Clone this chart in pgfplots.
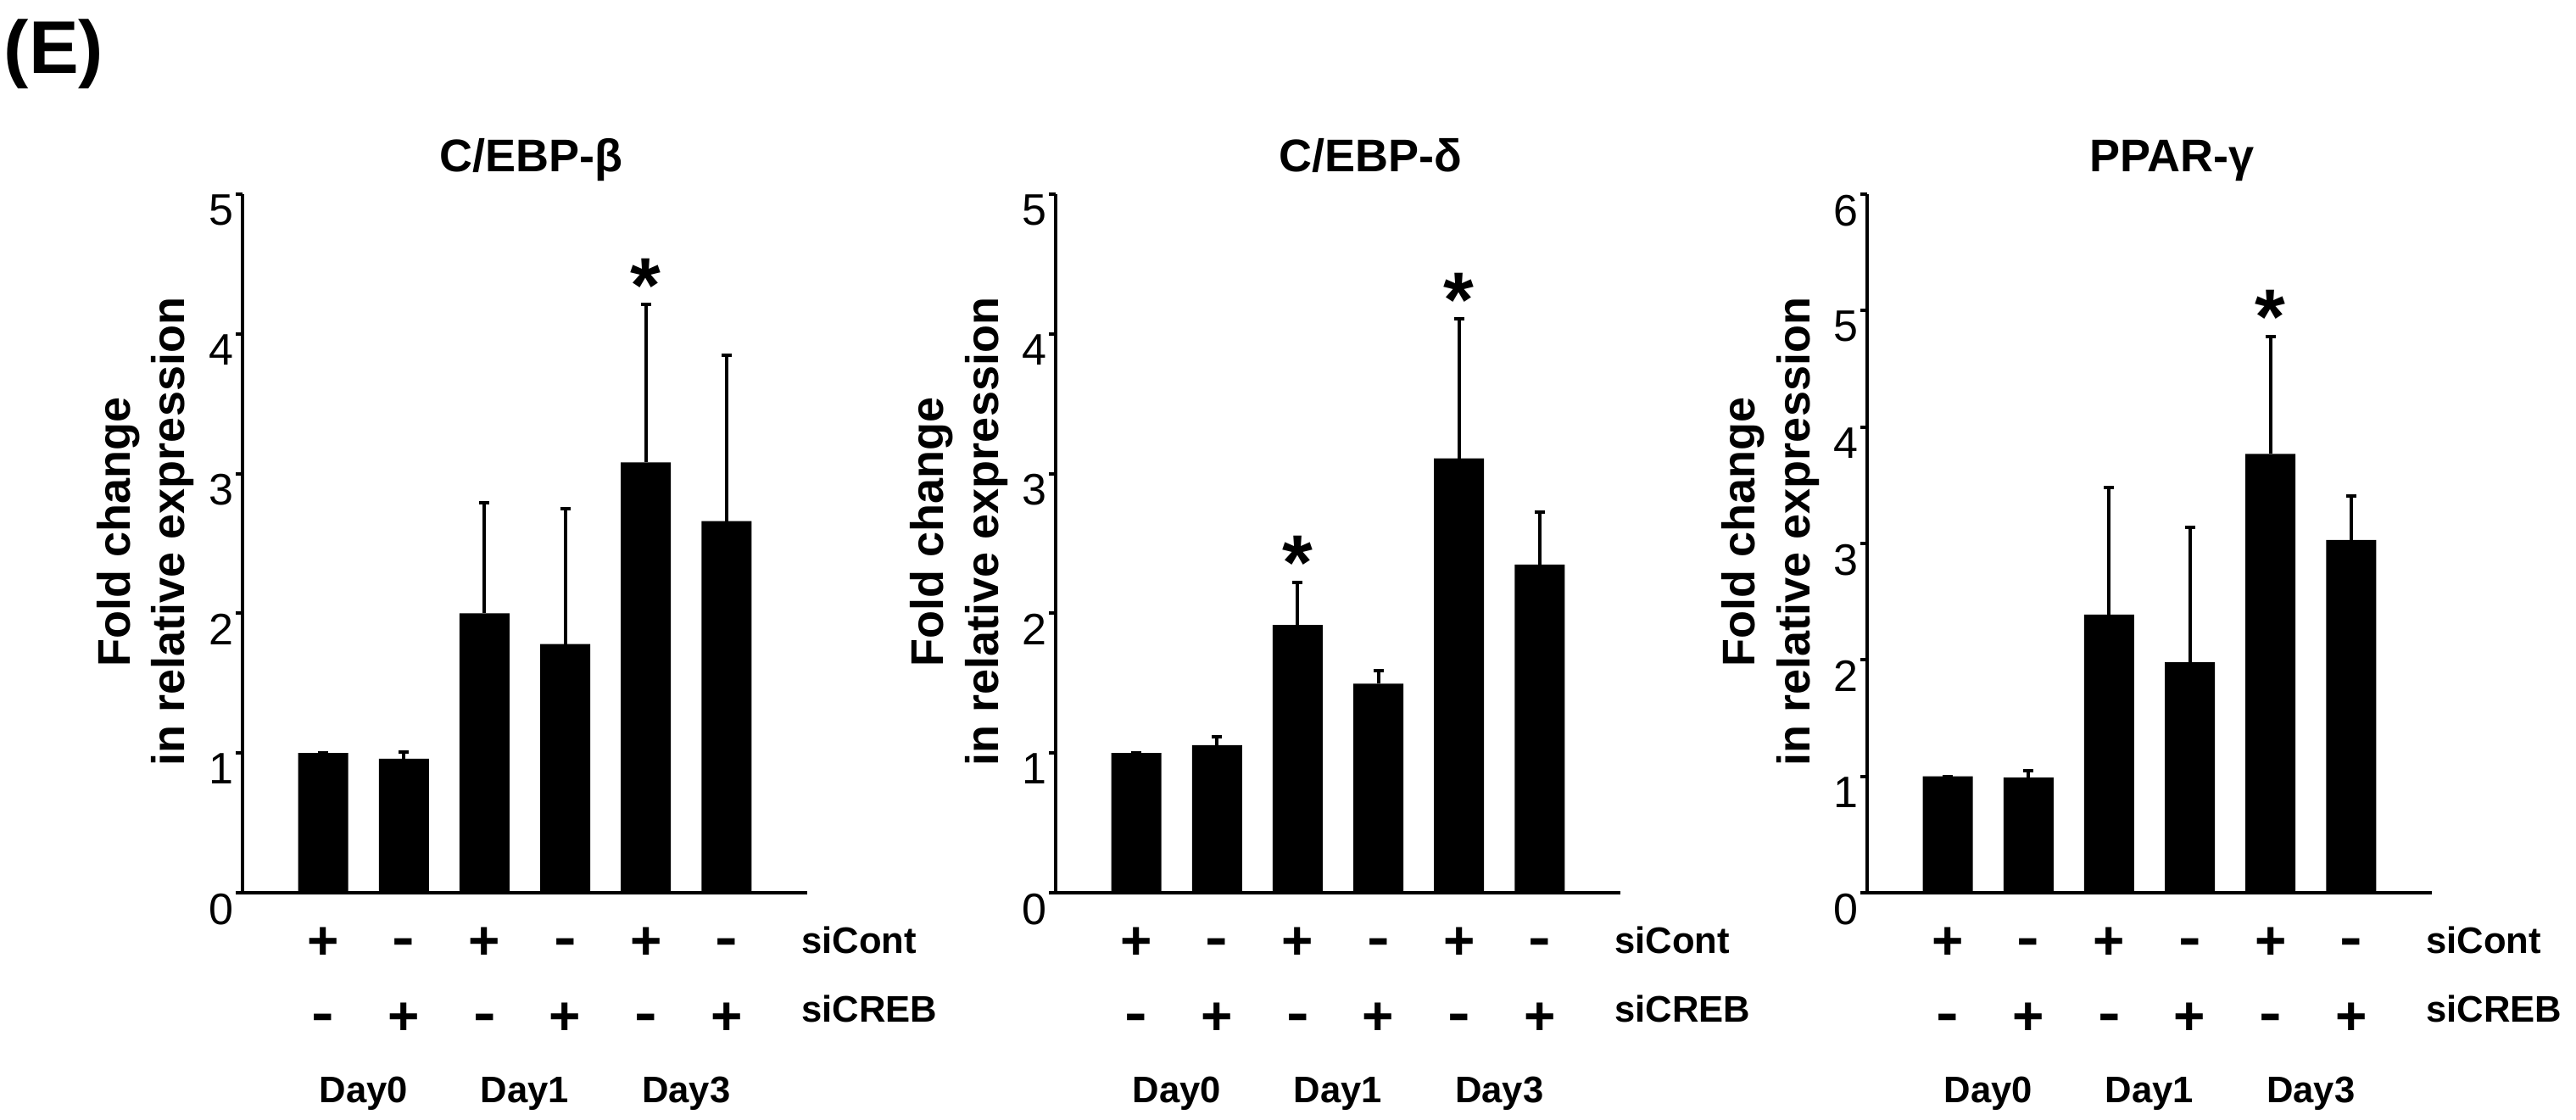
\documentclass[border=0pt]{standalone}
\usepackage{fontspec}
\setmainfont{Liberation Sans}
\usepackage{pgfplots}
\usepackage{pgfplotstable}
\pgfplotsset{compat=1.18}

\pgfplotstableread{
x y e
1 1.00 0
2 0.96 0.05
3 2.00 0.79
4 1.78 0.97
5 3.08 1.13
6 2.66 1.19
}\tabA
\pgfplotstableread{
x y e
1 1.00 0
2 1.056 0.063
3 1.917 0.306
4 1.496 0.092
5 3.109 0.997
6 2.349 0.373
}\tabB
\pgfplotstableread{
x y e
1 1.00 0
2 0.99 0.06
3 2.39 1.09
4 1.98 1.16
5 3.77 1.01
6 3.03 0.38
}\tabC

\newcommand\pmfont{\fontsize{16}{16}\selectfont\bfseries}
\newcommand\lblfont{\fontsize{10.9}{10.9}\selectfont\bfseries}
\newcommand\ttlfont{\fontsize{13.5}{13.5}\selectfont\bfseries}
\newcommand\starfont{\fontsize{23}{23}\selectfont\bfseries}
\newcommand\mns{\scalebox{1.25}[1]{-}}

\pgfplotsset{
  panel/.style={
    scale only axis, width=166.5pt, height=206pt,
    xmin=0, xmax=7, ymin=0,
    axis x line*=bottom, axis y line*=left,
    axis line style={line width=1pt, -},
    xtick=\empty,
    ytick distance=1,
    tick align=outside, major tick length=2pt,
    tick style={line width=1pt, black},
    yticklabel style={font=\fontsize{13}{13}\selectfont, anchor=north east, inner sep=0pt, xshift=-0.5pt},
    /pgf/number format/assume math mode=true,
    clip=false,
  },
  bars/.style={
    ybar, bar width=14.75pt, bar shift=0pt, fill=black, draw=none,
    error bars/.cd, y dir=plus, y explicit,
    error bar style={line width=1pt, black},
    error mark options={rotate=90, mark size=1.5pt, line width=1pt, black},
  },
}

\newcommand\pl[2]{\node[anchor=base, inner sep=0pt, font=\pmfont, yshift=#2] at (axis cs:#1,0) {+};}
\newcommand\mi[2]{\node[anchor=base, inner sep=0pt, font=\pmfont, yshift=#2] at (axis cs:#1,0) {\mns};}

\newcommand\rows{%
  \pl{1}{-19.5pt}\mi{2}{-18.5pt}\pl{3}{-19.5pt}\mi{4}{-18.5pt}\pl{5}{-19.5pt}\mi{6}{-18.5pt}
  \mi{1}{-40.75pt}\pl{2}{-41.9pt}\mi{3}{-40.75pt}\pl{4}{-41.9pt}\mi{5}{-40.75pt}\pl{6}{-41.9pt}
  \node[anchor=base west, inner sep=0pt, font=\lblfont, yshift=-17.75pt] at (axis cs:6.92,0) {siCont};
  \node[anchor=base west, inner sep=0pt, font=\lblfont, yshift=-38pt] at (axis cs:6.92,0) {siCREB};
  \node[anchor=base, inner sep=0pt, font=\lblfont, yshift=-61.75pt] at (axis cs:1.5,0) {Day0};
  \node[anchor=base, inner sep=0pt, font=\lblfont, yshift=-61.75pt] at (axis cs:3.5,0) {Day1};
  \node[anchor=base, inner sep=0pt, font=\lblfont, yshift=-61.75pt] at (axis cs:5.5,0) {Day3};
  \node[anchor=base, inner sep=0pt, rotate=90, font=\ttlfont] at ([xshift=-33.25pt]axis description cs:0,0.517) {Fold change};
  \node[anchor=base, inner sep=0pt, rotate=90, font=\ttlfont] at ([xshift=-17pt]axis description cs:0,0.517) {in relative expression};
}

\begin{document}
\begin{tikzpicture}
\path (0pt,0pt) rectangle (759.5pt,330pt);
\node[anchor=base west, inner sep=0pt, font=\fontsize{22}{22}\selectfont\bfseries] at (1pt,308.25pt) {(E)};

\begin{axis}[panel, ymax=5, at={(71.5pt,66.75pt)}, anchor=south west]
\addplot[bars] table[x=x, y=y, y error=e] {\tabA};
\rows
\node[anchor=base, inner sep=0pt, font=\ttlfont] at ([yshift=6.75pt]axis description cs:0.511,1) {C/EBP-β};
\node[anchor=base, inner sep=0pt, font=\starfont, yshift=-2.2pt] at (axis cs:5,4.21) {*};
\end{axis}

\begin{axis}[panel, ymax=5, at={(311.25pt,66.75pt)}, anchor=south west]
\addplot[bars] table[x=x, y=y, y error=e] {\tabB};
\rows
\node[anchor=base, inner sep=0pt, font=\ttlfont] at ([yshift=6.75pt]axis description cs:0.557,1) {C/EBP-δ};
\node[anchor=base, inner sep=0pt, font=\starfont, yshift=-2.2pt] at (axis cs:3,2.223) {*};
\node[anchor=base, inner sep=0pt, font=\starfont, yshift=-2.2pt] at (axis cs:5,4.106) {*};
\end{axis}

\begin{axis}[panel, ymax=6, at={(550.5pt,66.75pt)}, anchor=south west]
\addplot[bars] table[x=x, y=y, y error=e] {\tabC};
\rows
\node[anchor=base, inner sep=0pt, font=\ttlfont] at ([yshift=6.75pt]axis description cs:0.54,1) {PPAR-γ};
\node[anchor=base, inner sep=0pt, font=\starfont, yshift=-2.2pt] at (axis cs:5,4.78) {*};
\end{axis}
\end{tikzpicture}
\end{document}
